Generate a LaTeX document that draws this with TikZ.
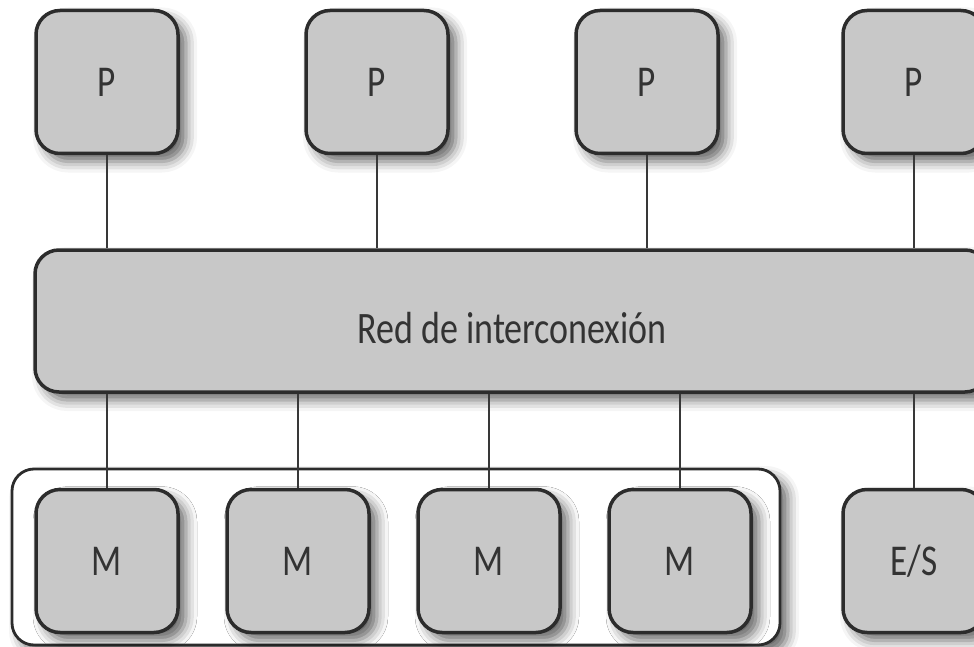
\documentclass[tikz,border=0pt]{standalone}
\usepackage{fontspec}
\setmainfont{Carlito}[FakeStretch=0.8]
\usetikzlibrary{shadows.blur}
\definecolor{boxfill}{HTML}{C8C8C8}
\definecolor{boxedge}{HTML}{2C2C2C}
\definecolor{wirecol}{HTML}{383838}
\definecolor{txt}{HTML}{333333}
\begin{document}
\begin{tikzpicture}[x=1pt,y=-1pt,
  shade3d/.style={blur shadow={shadow xshift=8pt, shadow yshift=-8pt, shadow blur radius=11pt, shadow opacity=60}},
  unit/.style={draw=boxedge, line width=3.5pt, fill=boxfill, rounded corners=24pt,
    minimum width=142pt, minimum height=143pt, inner sep=0pt, text=txt,
    font=\fontsize{44}{50}\selectfont, shade3d},
  bus/.style={unit, minimum width=954pt, minimum height=142pt},
  frame/.style={draw=boxedge, line width=2.8pt, fill=white, rounded corners=22pt,
    minimum width=768pt, minimum height=176pt, inner sep=0pt, shade3d},
  wire/.style={draw=wirecol, line width=2pt}]
\useasboundingbox (0,0) rectangle (974,647);
% memory frame
\node[frame] (mem) at (396,557) {};
% processors
\node[unit] (P1) at (107,82) {P};
\node[unit] (P2) at (377,82) {P};
\node[unit] (P3) at (647,82) {P};
\node[unit] (P4) at (914,82) {P};
% interconnect
\node[bus] (net) at (512,321) {};
\node[text=txt, font=\fontsize{45}{50}\selectfont] (netlabel) at (512,328) {Red de interconexión};
% memories and I/O
\node[unit] (M1) at (107,561) {M};
\node[unit] (M2) at (298,561) {M};
\node[unit] (M3) at (489,561) {M};
\node[unit] (M4) at (680,561) {M};
\node[unit] (ES) at (914,561) {E/S};
% connectors
\foreach \n in {P1,P2,P3,P4}
  \draw[wire] (\n.south) -- (\n.south |- net.north);
\foreach \n in {M1,M2,M3,M4,ES}
  \draw[wire] (net.south -| \n.north) -- (\n.north);
\end{tikzpicture}
\end{document}
